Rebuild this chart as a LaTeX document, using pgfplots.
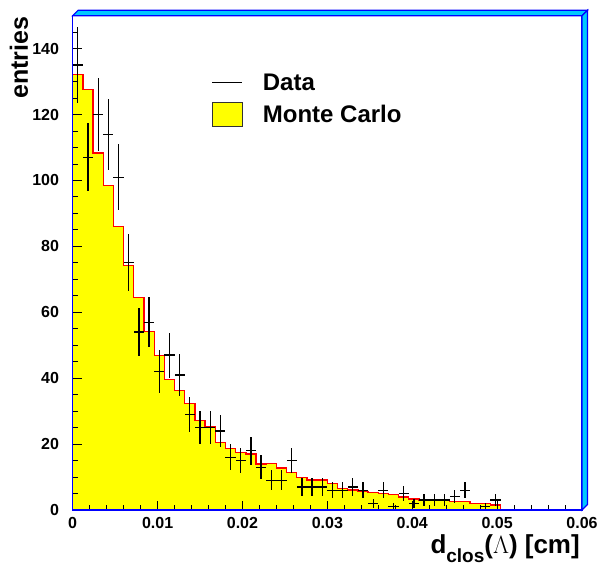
\documentclass[border=0pt]{standalone}
\usepackage{fontspec}
\setmainfont{Liberation Sans}
\usepackage{pgfplots}
\usepackage{pgfplotstable}
\pgfplotsset{compat=1.18}

\definecolor{rootblue}{RGB}{0,0,255}
\definecolor{rootcyan}{RGB}{0,200,255}
\definecolor{rootyellow}{RGB}{255,255,0}
\definecolor{rootred}{RGB}{255,0,0}

% Monte Carlo histogram: left bin edge, bin content (bin width 0.0012 cm)
\pgfplotstableread{
x       y
0.0000  132.1
0.0012  127.5
0.0024  108.3
0.0036  98.4
0.0048  86.0
0.0060  74.3
0.0072  64.4
0.0084  54.1
0.0096  46.9
0.0108  39.7
0.0120  36.3
0.0132  32.3
0.0144  27.1
0.0156  25.3
0.0168  20.4
0.0180  18.7
0.0192  17.4
0.0204  17.0
0.0216  14.0
0.0228  14.2
0.0240  12.7
0.0252  11.3
0.0264  9.9
0.0276  9.1
0.0288  9.1
0.0300  8.1
0.0312  6.6
0.0324  6.1
0.0336  5.6
0.0348  5.3
0.0360  5.1
0.0372  4.6
0.0384  3.9
0.0396  3.3
0.0408  3.0
0.0420  3.0
0.0432  3.0
0.0444  2.5
0.0456  2.5
0.0468  2.0
0.0480  2.0
0.0492  1.5
0.0504  1.5
}\mchist

% Red outline of the same histogram, closed down to the axis
\pgfplotstableread{
x       y
0.0000  0
0.0000  132.1
0.0012  127.5
0.0024  108.3
0.0036  98.4
0.0048  86.0
0.0060  74.3
0.0072  64.4
0.0084  54.1
0.0096  46.9
0.0108  39.7
0.0120  36.3
0.0132  32.3
0.0144  27.1
0.0156  25.3
0.0168  20.4
0.0180  18.7
0.0192  17.4
0.0204  17.0
0.0216  14.0
0.0228  14.2
0.0240  12.7
0.0252  11.3
0.0264  9.9
0.0276  9.1
0.0288  9.1
0.0300  8.1
0.0312  6.6
0.0324  6.1
0.0336  5.6
0.0348  5.3
0.0360  5.1
0.0372  4.6
0.0384  3.9
0.0396  3.3
0.0408  3.0
0.0420  3.0
0.0432  3.0
0.0444  2.5
0.0456  2.5
0.0468  2.0
0.0480  2.0
0.0492  1.5
0.0504  1.5
0.0504  0
0.0600  0
}\mcline

% Data: bin centre, entries, statistical error sqrt(N)
\pgfplotstableread{
x       y     e
0.0006  135   11.62
0.0018  107   10.34
0.0030  120   10.95
0.0042  114   10.68
0.0054  101   10.05
0.0066  75    8.66
0.0078  54    7.35
0.0090  57    7.55
0.0102  42    6.48
0.0114  47    6.86
0.0126  41    6.40
0.0138  29    5.39
0.0150  25    5.00
0.0162  25    5.00
0.0174  24    4.90
0.0186  16    4.00
0.0198  15    3.87
0.0210  18    4.24
0.0222  13    3.61
0.0234  9     3.00
0.0246  9     3.00
0.0258  15    3.87
0.0270  7     2.65
0.0282  7     2.65
0.0294  7     2.65
0.0306  6     2.45
0.0318  6     2.45
0.0330  7     2.65
0.0342  6     2.45
0.0354  2     1.41
0.0366  6     2.45
0.0378  1     1.00
0.0390  5     2.24
0.0402  2     1.41
0.0414  3     1.73
0.0426  3     1.73
0.0438  3     1.73
0.0450  4     2.00
0.0462  6     2.45
0.0486  1     1.00
0.0498  3     1.73
}\datatab

\begin{document}
\begin{tikzpicture}
\begin{axis}[
  name=ax,
  anchor=south west, at={(0,0)},
  scale only axis,
  width=509.3pt, height=494.3pt,
  xmin=0, xmax=0.06, ymin=0, ymax=150,
  axis on top,
  axis line style={rootblue, line width=1.2pt},
  tick align=inside,
  tick pos=left,
  tick style={black, line width=0.9pt},
  major tick length=9pt,
  minor tick length=5pt,
  xtick={0,0.01,0.02,0.03,0.04,0.05,0.06},
  xticklabels={0,0.01,0.02,0.03,0.04,0.05,0.06},
  minor xtick={0.002,0.004,0.006,0.008,0.012,0.014,0.016,0.018,0.022,0.024,0.026,0.028,0.032,0.034,0.036,0.038,0.042,0.044,0.046,0.048,0.052,0.054,0.056,0.058},
  ytick={0,20,40,60,80,100,120,140},
  minor ytick={5,10,15,25,30,35,45,50,55,65,70,75,85,90,95,105,110,115,125,130,135,145},
  scaled x ticks=false,
  scaled y ticks=false,
  /pgf/number format/assume math mode=true,
  ticklabel style={font=\bfseries\fontsize{16}{16}\selectfont, inner sep=0pt},
  xticklabel style={anchor=north, yshift=-6.7pt},
  yticklabel style={anchor=east, xshift=-13.5pt},
  legend style={at={(0.2729,0.8887)}, anchor=north west, draw=none, fill=none,
    inner sep=0pt, outer sep=0pt, row sep=7pt,
    nodes={inner sep=0pt},
    font=\bfseries\fontsize{24}{24}\selectfont,
    /tikz/every odd column/.append style={column sep=20pt}},
  legend cell align=left,
  clip=false,
]
\addplot[const plot, fill=rootyellow, draw=none, forget plot]
  table[x=x, y=y] {\mchist} \closedcycle;
\addplot[const plot, draw=rootred, line width=1.3pt, forget plot]
  table[x=x, y=y] {\mcline};
\addplot[draw=none, mark=none, forget plot,
  error bars/.cd, x dir=both, x fixed=0.0006, y dir=both, y explicit,
  error mark=none, error bar style={black, line width=1.3pt}]
  table[x=x, y=y, y error=e] {\datatab};

% both legend symbols share one bounding box so the rows line up alike
\addlegendimage{legend image code/.code={%
  \path[draw=none, fill=none] (0pt,-11.4pt) rectangle (30pt,12.6pt);
  \draw[black, line width=1.2pt] (0pt,0.6pt) -- (30pt,0.6pt);}}
\addlegendentry{Data}
\addlegendimage{legend image code/.code={%
  \filldraw[fill=rootyellow, draw=black!80, line width=1pt] (0pt,-11.4pt) rectangle (30pt,12.6pt);}}
\addlegendentry{Monte Carlo}
\end{axis}

% bevelled frame border on top and right
\filldraw[fill=rootcyan, draw=rootblue, line width=1.2pt, line join=miter]
  (0pt,494.3pt) -- (5.5pt,499.8pt) -- (514.8pt,499.8pt) -- (509.3pt,494.3pt) -- cycle;
\filldraw[fill=rootcyan, draw=rootblue, line width=1.2pt, line join=miter]
  (509.3pt,494.3pt) -- (514.8pt,499.8pt) -- (514.8pt,5.5pt) -- (509.3pt,0pt) -- cycle;

% axis titles
\node[rotate=90, anchor=base east, inner sep=0pt, font=\bfseries\fontsize{25}{25}\selectfont]
  at (-44.7pt,493.3pt) {entries};
\node[anchor=base east, inner sep=0pt, font=\bfseries\fontsize{26}{26}\selectfont]
  at (507.3pt,-44pt) {d\raisebox{-9pt}{\fontsize{19}{19}\selectfont clos}($\Lambda$) [cm]};

\pgfresetboundingbox
\path[use as bounding box] (-72.7pt,-57pt) rectangle (530.3pt,510pt);
\end{tikzpicture}
\end{document}
